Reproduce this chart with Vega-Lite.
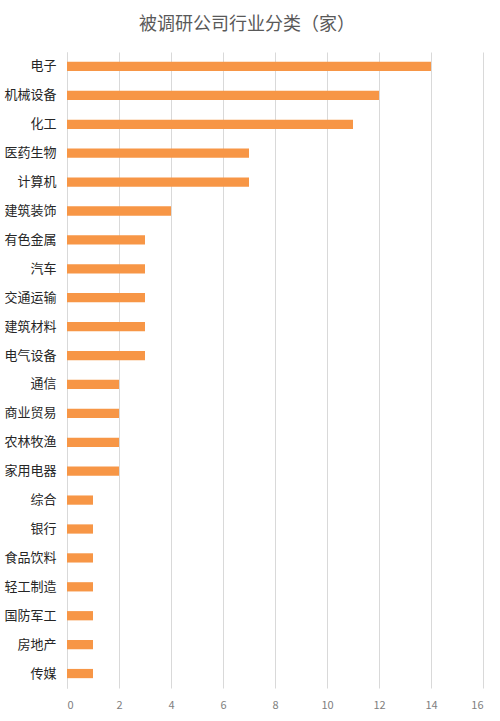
{
  "$schema": "https://vega.github.io/schema/vega-lite/v6.json",
  "autosize": "none",
  "padding": {"left": 67, "top": 52, "right": 17, "bottom": 33},
  "width": 416,
  "height": 636,
  "background": "white",
  "title": {
    "text": "被调研公司行业分类（家）",
    "font": "Noto Sans CJK SC",
    "fontSize": 18,
    "fontWeight": "normal",
    "color": "#595959",
    "anchor": "middle",
    "dx": -28,
    "offset": 18
  },
  "data": {
    "values": [
      {"industry": "电子", "count": 14},
      {"industry": "机械设备", "count": 12},
      {"industry": "化工", "count": 11},
      {"industry": "医药生物", "count": 7},
      {"industry": "计算机", "count": 7},
      {"industry": "建筑装饰", "count": 4},
      {"industry": "有色金属", "count": 3},
      {"industry": "汽车", "count": 3},
      {"industry": "交通运输", "count": 3},
      {"industry": "建筑材料", "count": 3},
      {"industry": "电气设备", "count": 3},
      {"industry": "通信", "count": 2},
      {"industry": "商业贸易", "count": 2},
      {"industry": "农林牧渔", "count": 2},
      {"industry": "家用电器", "count": 2},
      {"industry": "综合", "count": 1},
      {"industry": "银行", "count": 1},
      {"industry": "食品饮料", "count": 1},
      {"industry": "轻工制造", "count": 1},
      {"industry": "国防军工", "count": 1},
      {"industry": "房地产", "count": 1},
      {"industry": "传媒", "count": 1}
    ]
  },
  "mark": {"type": "bar", "color": "#F79646"},
  "encoding": {
    "y": {
      "field": "industry",
      "type": "nominal",
      "sort": null,
      "scale": {"paddingInner": 0.68, "paddingOuter": 0.34},
      "axis": {
        "title": null,
        "ticks": false,
        "domainColor": "#d9d9d9",
        "labelFont": "Noto Sans CJK SC",
        "labelFontSize": 13,
        "labelColor": "#262626",
        "labelPadding": 11
      }
    },
    "x": {
      "field": "count",
      "type": "quantitative",
      "scale": {"domain": [0, 16], "nice": false},
      "axis": {
        "title": null,
        "values": [0, 2, 4, 6, 8, 10, 12, 14, 16],
        "domain": false,
        "ticks": false,
        "gridColor": "#d9d9d9",
        "labelFont": "Noto Sans CJK SC",
        "labelFontSize": 11,
        "labelColor": "#808080",
        "labelPadding": 11
      }
    }
  },
  "config": {"view": {"stroke": null}}
}
